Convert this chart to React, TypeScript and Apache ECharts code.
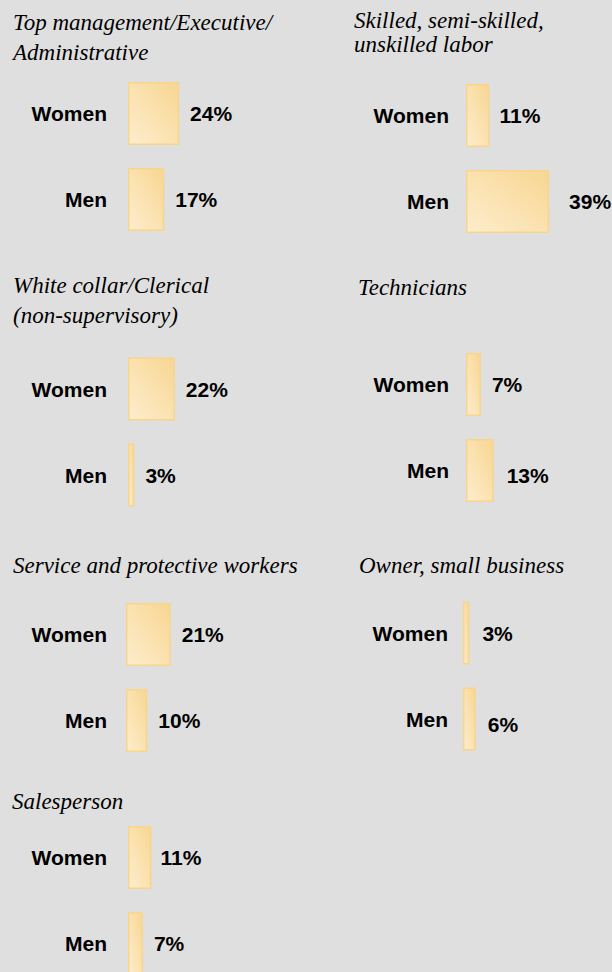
import React, { useEffect, useRef } from "react";
import * as echarts from "echarts";

const categories = ["Women", "Men"];
const panelTitles: string[][] = [
  ["Top management/Executive/", "Administrative"],
  ["Skilled, semi-skilled,", "unskilled labor"],
  ["White collar/Clerical", "(non-supervisory)"],
  ["Technicians"],
  ["Service and protective workers"],
  ["Owner, small business"],
  ["Salesperson"],
];
const womenValues = [24, 11, 22, 7, 21, 3, 11];
const menValues = [17, 39, 3, 13, 10, 6, 7];

const panelLayout = [
  { titleX: 13, titleBase: 30, lineGap: 30, gridLeft: 128, gridTop: 70.5, labelMargin: 21 },
  { titleX: 354, titleBase: 28, lineGap: 24, gridLeft: 466, gridTop: 72.5, labelMargin: 17 },
  { titleX: 13, titleBase: 293, lineGap: 30, gridLeft: 128, gridTop: 346, labelMargin: 21 },
  { titleX: 358, titleBase: 295, lineGap: 30, gridLeft: 466, gridTop: 341.5, labelMargin: 17 },
  { titleX: 13, titleBase: 573, lineGap: 30, gridLeft: 126, gridTop: 591.5, labelMargin: 19 },
  { titleX: 359, titleBase: 573, lineGap: 30, gridLeft: 463, gridTop: 590, labelMargin: 15 },
  { titleX: 12, titleBase: 809, lineGap: 30, gridLeft: 128, gridTop: 814.5, labelMargin: 21 },
];
// per-panel [Women, Men] value-label nudges [dx, dy] seen in the reference
const labelNudges: number[][][] = [
  [[0, 0], [0, 0]],
  [[-1, 0], [9, 0]],
  [[0, 0], [0, 0]],
  [[0, 0], [2, 5]],
  [[0, 0], [0, 0]],
  [[2, 0], [1, 5]],
  [[-2, 0], [0, 0]],
];

const SCALE_MAX = 40;
const GRID_W = 85.2;
const GRID_H = 172;
const BAR_H = 63;
const BG = "#dfdfdf";
const SANS = "'Liberation Sans', Arial, sans-serif";
const SERIF = "'Liberation Serif', 'Times New Roman', serif";

export default function App() {
  const ref = useRef<HTMLDivElement>(null);
  useEffect(() => {
    document.body.style.margin = "0";
    if (!ref.current) return;
    const chart = echarts.init(ref.current, undefined, { renderer: "svg" });

    const barFill = new echarts.graphic.LinearGradient(0, 1, 1, 0, [
      { offset: 0, color: "#fdedcd" },
      { offset: 1, color: "#f8d692" },
    ]);

    const grids = panelLayout.map((p) => ({
      left: p.gridLeft,
      top: p.gridTop,
      width: GRID_W,
      height: GRID_H,
      containLabel: false,
      outerBoundsMode: "none",
    }));
    const xAxes = panelLayout.map((_, i) => ({
      type: "value",
      gridIndex: i,
      min: 0,
      max: SCALE_MAX,
      show: false,
    }));
    const yAxes = panelLayout.map((p, i) => ({
      type: "category",
      gridIndex: i,
      data: categories,
      inverse: true,
      axisLine: { show: false },
      axisTick: { show: false },
      splitLine: { show: false },
      axisLabel: {
        margin: p.labelMargin,
        fontFamily: SANS,
        fontSize: 21,
        fontWeight: "bold",
        color: "#000",
      },
    }));
    const series = panelLayout.map((_, i) => ({
      type: "bar",
      xAxisIndex: i,
      yAxisIndex: i,
      data: [womenValues[i], menValues[i]].map((v, j) => ({
        value: v,
        label: { offset: labelNudges[i][j] },
      })),
      barWidth: BAR_H,
      itemStyle: {
        color: barFill,
        borderColor: "#f7d68c",
        borderWidth: 1.5,
      },
      label: {
        show: true,
        position: "right",
        distance: 11,
        formatter: "{c}%",
        fontFamily: SANS,
        fontSize: 21,
        fontWeight: "bold",
        color: "#000",
      },
    }));
    const graphics: any[] = [];
    panelTitles.forEach((lines, i) => {
      const p = panelLayout[i];
      lines.forEach((line, j) => {
        graphics.push({
          type: "text",
          x: p.titleX,
          y: p.titleBase + j * p.lineGap - 8,
          style: {
            text: line,
            fill: "#000",
            font: `italic 23px ${SERIF}`,
            verticalAlign: "middle",
            align: "left",
          },
        });
      });
    });

    chart.setOption({
      animation: false,
      backgroundColor: BG,
      grid: grids,
      xAxis: xAxes,
      yAxis: yAxes,
      series,
      graphic: graphics,
    } as any);
    return () => chart.dispose();
  }, []);
  return (
    <div
      ref={ref}
      style={{ position: "fixed", left: 0, top: 0, width: 612, height: 972, background: BG }}
    />
  );
}
